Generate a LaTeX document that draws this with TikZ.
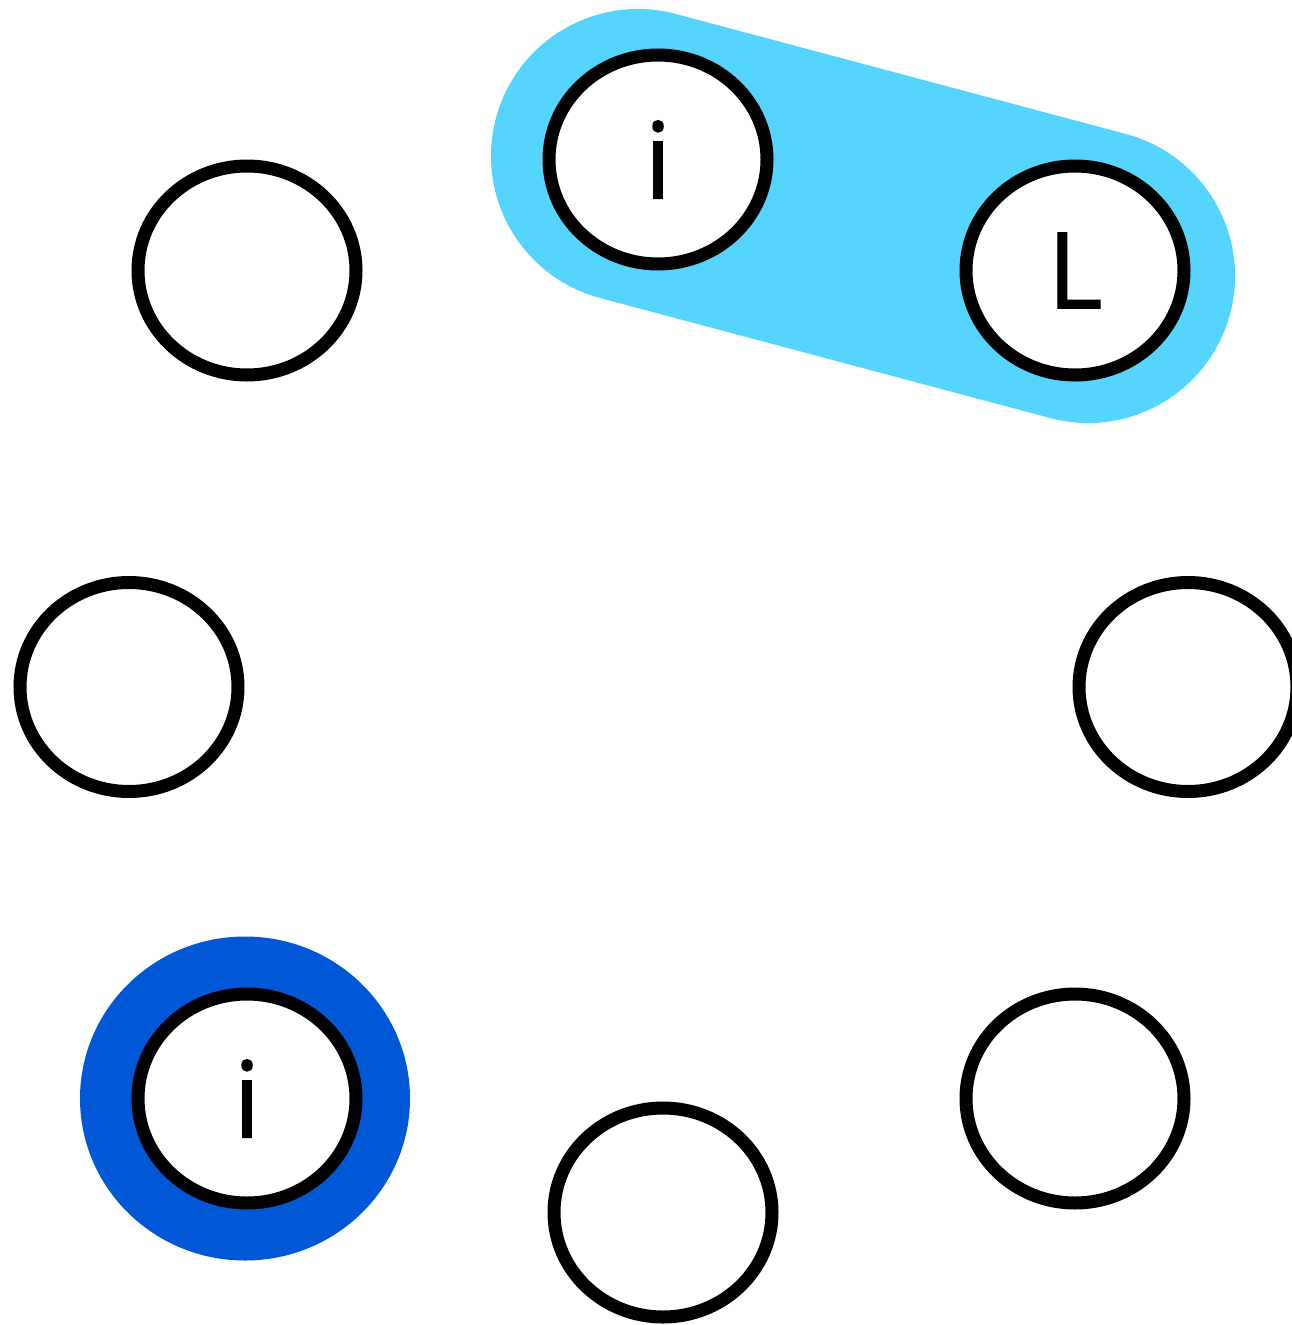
\documentclass[tikz,border=0pt]{standalone}
\usepackage{fontspec}
\setmainfont{Open Sans}
\newfontfamily\ringfont[FakeBold=1.2]{Open Sans}
\usetikzlibrary{shapes.geometric,calc}
\definecolor{lightblu}{HTML}{55D5FD}
\definecolor{darkblu}{HTML}{0058D6}
\begin{document}
\begin{tikzpicture}[x=1pt,y=-1pt,
  ring/.style={draw=black,fill=white,line width=13pt,ellipse,inner sep=0pt,
    minimum width=218pt,minimum height=209pt,
    font=\ringfont\fontsize{106}{106}\selectfont},
  pair/.style={draw=lightblu,line width=294pt,line cap=round},
  halo/.style={fill=darkblu}]
\useasboundingbox (0,0) rectangle (1292,1325);
% positions of the circles
\coordinate (pTL) at (247,270.5);
\coordinate (pTI) at (658,159.5);
\coordinate (pL)  at (1075,270.5);
\coordinate (pLf) at (129,687);
\coordinate (pR)  at (1188,687);
\coordinate (pBL) at (247,1098.5);
\coordinate (pB)  at (663,1212.5);
\coordinate (pBR) at (1075,1098.5);
% highlights
\coordinate (capA) at ($(pTI)+(-20,-3.5)$);
\coordinate (capB) at ($(pL)+(13,5.5)$);
\draw[pair] (capA) -- (capB);
\fill[halo] ($(pBL)+(-2,0)$) ellipse [x radius=165pt, y radius=162pt];
% circles
\node[ring] (tl) at (pTL) {};
\node[ring] (ti) at (pTI) {i};
\node[ring] (l)  at (pL)  {\raisebox{-3pt}{L}};
\node[ring] (lf) at (pLf) {};
\node[ring] (r)  at (pR)  {};
\node[ring] (bl) at (pBL) {i};
\node[ring] (b)  at (pB)  {};
\node[ring] (br) at (pBR) {};
\end{tikzpicture}
\end{document}
